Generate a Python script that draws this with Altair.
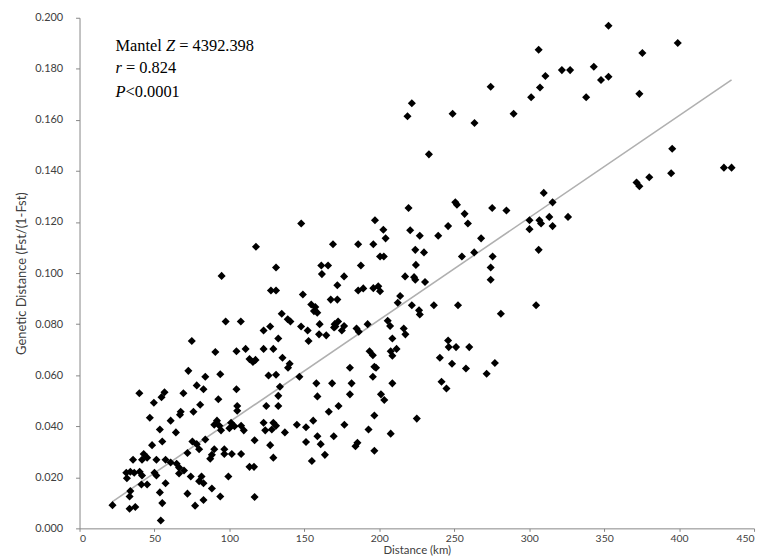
import altair as alt
import pandas as pd

# ---- data (distance km, genetic distance) ----
km_low_a = [74.9, 90.6, 104.7, 110.8, 113.4, 115.7, 72.6, 93.9, 83.9, 78.2, 82.7, 39.9,
            56.7, 54.7, 49.6, 69.3, 104.7, 92.6, 80.5, 76.0, 105.2, 105.2, 67.5, 67.0,
            46.9, 60.8, 91.7, 89.9, 93.3, 94.4, 101.1, 100.0, 103.4, 107.8, 109.6, 116.8,
            53.6, 64.3, 55.2, 48.4, 75.3, 78.2, 79.8, 83.9, 72.0, 89.9, 88.3, 87.2]
g_low_a = [0.0734, 0.0691, 0.0694, 0.0703, 0.0663, 0.0652, 0.0617, 0.0604, 0.0594, 0.0560, 0.0545, 0.0529,
           0.0533, 0.0514, 0.0492, 0.0529, 0.0545, 0.0506, 0.0484, 0.0457, 0.0479, 0.0461, 0.0457, 0.0445,
           0.0433, 0.0422, 0.0422, 0.0406, 0.0402, 0.0384, 0.0414, 0.0392, 0.0400, 0.0402, 0.0384, 0.0345,
           0.0387, 0.0376, 0.0340, 0.0326, 0.0340, 0.0330, 0.0310, 0.0348, 0.0295, 0.0310, 0.0288, 0.0273]

km_low_b = [96.6, 96.6, 101.6, 107.8, 42.8, 41.7, 45.1, 35.7, 51.3, 57.4, 60.8, 64.8,
            66.4, 69.7, 66.4, 50.0, 51.3, 31.2, 33.9, 31.6, 36.5, 40.1, 41.7, 74.2,
            81.4, 79.8, 82.7, 99.3, 113.4, 116.4, 41.3, 45.1, 33.9, 33.4, 57.4, 53.6,
            72.0, 88.3, 93.9, 82.7, 116.8, 22.0, 33.4, 37.2, 55.2, 77.1, 54.2]
g_low_b = [0.0310, 0.0291, 0.0291, 0.0291, 0.0291, 0.0269, 0.0277, 0.0269, 0.0269, 0.0269, 0.0258, 0.0253,
           0.0238, 0.0227, 0.0215, 0.0218, 0.0207, 0.0218, 0.0222, 0.0196, 0.0218, 0.0222, 0.0207, 0.0203,
           0.0203, 0.0185, 0.0177, 0.0203, 0.0241, 0.0241, 0.0172, 0.0172, 0.0146, 0.0125, 0.0177, 0.0141,
           0.0136, 0.0156, 0.0125, 0.0111, 0.0123, 0.0091, 0.0077, 0.0084, 0.0099, 0.0089, 0.0031]

km_mid = [122.8, 127.2, 147.8, 152.2, 152.8, 159.8, 164.6, 170.7, 175.0, 184.8, 186.3, 193.5,
          195.7, 196.7, 208.7, 207.6, 211.5, 208.7, 216.3, 217.4, 122.8, 129.3, 132.6, 135.4,
          140.2, 139.1, 126.1, 131.1, 133.7, 132.6, 132.6, 146.7, 158.0, 158.7, 168.5, 180.4,
          181.5, 180.4, 195.7, 197.8, 208.7, 201.1, 203.3, 124.6, 166.3, 172.8, 196.7, 225.0,
          122.8, 129.3, 131.1, 123.9, 128.3, 137.0, 145.0, 151.1, 155.9, 176.7, 192.8, 207.6,
          127.2, 151.1, 158.7, 160.9, 163.7, 169.6, 185.4, 184.1, 196.7, 129.3, 155.0, 117.4]
g_mid = [0.0775, 0.0791, 0.0791, 0.0775, 0.0734, 0.0760, 0.0756, 0.0791, 0.0775, 0.0783, 0.0770, 0.0694,
         0.0678, 0.0633, 0.0744, 0.0694, 0.0703, 0.0676, 0.0783, 0.0760, 0.0703, 0.0703, 0.0744, 0.0668,
         0.0645, 0.0629, 0.0599, 0.0602, 0.0555, 0.0519, 0.0479, 0.0594, 0.0568, 0.0517, 0.0568, 0.0629,
         0.0568, 0.0525, 0.0594, 0.0629, 0.0568, 0.0525, 0.0503, 0.0479, 0.0457, 0.0479, 0.0442, 0.0430,
         0.0414, 0.0414, 0.0402, 0.0384, 0.0387, 0.0376, 0.0406, 0.0396, 0.0422, 0.0406, 0.0387, 0.0371,
         0.0326, 0.0338, 0.0361, 0.0330, 0.0288, 0.0361, 0.0335, 0.0322, 0.0304, 0.0277, 0.0264, 0.0660]

km_upper = [117.7, 94.8, 97.5, 107.6, 219.5, 197.1, 220.6, 202.7, 204.2, 147.9, 169.1, 185.9,
            196.0, 224.0, 200.5, 203.0, 131.1, 161.3, 165.8, 161.7, 187.7, 176.5, 217.2, 224.0,
            172.0, 127.7, 131.1, 149.0, 185.9, 189.3, 196.0, 199.3, 200.5, 167.6, 172.0, 213.9,
            212.3, 154.6, 157.3, 156.4, 158.6, 221.7, 134.9, 138.9, 140.7, 160.2, 170.2, 172.5,
            169.8, 176.5, 192.2, 205.6, 207.2]
g_upper = [0.1103, 0.0989, 0.0810, 0.0810, 0.1255, 0.1207, 0.1168, 0.1170, 0.1136, 0.1194, 0.1113, 0.1113,
           0.1113, 0.1091, 0.1065, 0.1065, 0.1022, 0.1030, 0.1030, 0.0996, 0.1030, 0.0987, 0.0987, 0.0974,
           0.0952, 0.0932, 0.0932, 0.0916, 0.0932, 0.0940, 0.0941, 0.0948, 0.0929, 0.0896, 0.0896, 0.0910,
           0.0884, 0.0877, 0.0867, 0.0851, 0.0845, 0.0874, 0.0841, 0.0819, 0.0810, 0.0800, 0.0800, 0.0810,
           0.0787, 0.0793, 0.0800, 0.0813, 0.0793]

km_right = [250.7, 251.8, 275.3, 284.8, 309.7, 315.6, 325.9, 300.2, 300.2, 306.8, 307.9, 313.4,
            315.6, 256.9, 259.1, 245.9, 227.0, 239.3, 267.9, 229.8, 255.1, 263.3, 275.6, 306.3,
            224.4, 274.3, 223.2, 230.5, 274.3, 226.5, 227.0, 236.4, 252.5, 281.1, 304.6, 245.9,
            246.3, 251.2, 260.0, 240.4, 248.5, 257.8, 277.1, 271.6, 241.5, 244.8]
g_right = [0.1277, 0.1268, 0.1255, 0.1245, 0.1314, 0.1277, 0.1220, 0.1207, 0.1172, 0.1207, 0.1194, 0.1220,
           0.1184, 0.1232, 0.1194, 0.1184, 0.1146, 0.1146, 0.1136, 0.1081, 0.1065, 0.1081, 0.1065, 0.1091,
           0.1032, 0.1022, 0.0984, 0.0965, 0.0974, 0.0854, 0.0838, 0.0874, 0.0874, 0.0841, 0.0874, 0.0736,
           0.0710, 0.0710, 0.0710, 0.0668, 0.0645, 0.0626, 0.0648, 0.0606, 0.0574, 0.0548]

km_top = [352.9, 399.1, 306.3, 375.5, 321.8, 327.3, 343.1, 310.8, 347.9, 352.9, 274.3, 307.2,
          301.3, 338.0, 373.5, 221.7, 218.8, 248.9, 263.5, 289.6, 233.1, 395.4, 394.7, 380.1,
          371.6, 373.5, 429.9, 435.0]
g_top = [0.1969, 0.1901, 0.1875, 0.1862, 0.1795, 0.1795, 0.1808, 0.1772, 0.1756, 0.1769, 0.1730, 0.1727,
         0.1689, 0.1689, 0.1702, 0.1665, 0.1614, 0.1624, 0.1588, 0.1624, 0.1465, 0.1487, 0.1391, 0.1375,
         0.1355, 0.1340, 0.1413, 0.1413]

# linear trend line end points
trend_km = [22.0, 435.0]
trend_g = [0.0105, 0.1757]

x_ticks = [0, 50, 100, 150, 200, 250, 300, 350, 400, 450]
y_ticks = [0.0, 0.02, 0.04, 0.06, 0.08, 0.10, 0.12, 0.14, 0.16, 0.18, 0.20]

# annotation anchor (km) and line centres (genetic distance)
ann_km = 24.0
ann_g = [0.1891, 0.1802, 0.1708]

# ---- build ----
km_all = km_low_a + km_low_b + km_mid + km_upper + km_right + km_top
g_all = g_low_a + g_low_b + g_mid + g_upper + g_right + g_top
points = pd.DataFrame({"km": km_all, "g": g_all})
trend = pd.DataFrame({"km": trend_km, "g": trend_g})

xs = alt.Scale(domain=[0, 450], nice=False, zero=False)
ys = alt.Scale(domain=[0, 0.2], nice=False, zero=False)

axis_common = dict(
    grid=False,
    domainColor="#868686",
    tickColor="#868686",
    labelFont="Lato",
    labelColor="#404040",
    titleFont="Lato",
    titleFontWeight="normal",
    titleColor="#404040",
)

x_enc = alt.X("km:Q", scale=xs,
              axis=alt.Axis(values=x_ticks, title="Distance (km)", tickSize=3, labelPadding=2,
                            labelFontSize=10.5, titleFontSize=11.5, titlePadding=1,
                            **axis_common))
y_enc = alt.Y("g:Q", scale=ys,
              axis=alt.Axis(values=y_ticks, format=".3f", title="Genetic Distance (Fst/(1-Fst)",
                            tickSize=4, labelPadding=13, labelFontSize=11, titleFontSize=13,
                            titlePadding=6, **axis_common))

line = alt.Chart(trend).mark_line(color="#b0b0b0", strokeWidth=1.6).encode(x=x_enc, y=y_enc)
pts = alt.Chart(points).mark_point(shape="diamond", filled=True, size=66, color="black",
                                   opacity=1).encode(x="km:Q", y="g:Q")

FONT_SIZE = 16.5


def seg(text, row, dx, italic=False):
    df = pd.DataFrame({"km": [ann_km], "g": [ann_g[row]], "t": [text]})
    return alt.Chart(df).mark_text(
        align="left", baseline="middle", dx=dx, font="Liberation Serif", fontSize=FONT_SIZE,
        fontStyle="italic" if italic else "normal", color="black"
    ).encode(x="km:Q", y="g:Q", text="t:N")


fs = FONT_SIZE / 1000.0
texts = [
    seg("Mantel", 0, 0),
    seg("Z", 0, (2833 + 250) * fs, True),
    seg("= 4392.398", 0, (2833 + 250 + 556 + 250) * fs),
    seg("r", 1, 0, True),
    seg("= 0.824", 1, (389 + 250) * fs),
    seg("P", 2, 0, True),
    seg("<0.0001", 2, 611 * fs),
]

chart = alt.layer(line, pts, *texts).properties(
    width=679, height=514,
    autosize=alt.AutoSizeParams(type="none"),
    padding={"left": 72, "top": 8, "right": 7, "bottom": 30},
    background="white",
).configure_view(stroke=None)

chart.save("out.html", embed_options={"renderer": "svg", "actions": False})
